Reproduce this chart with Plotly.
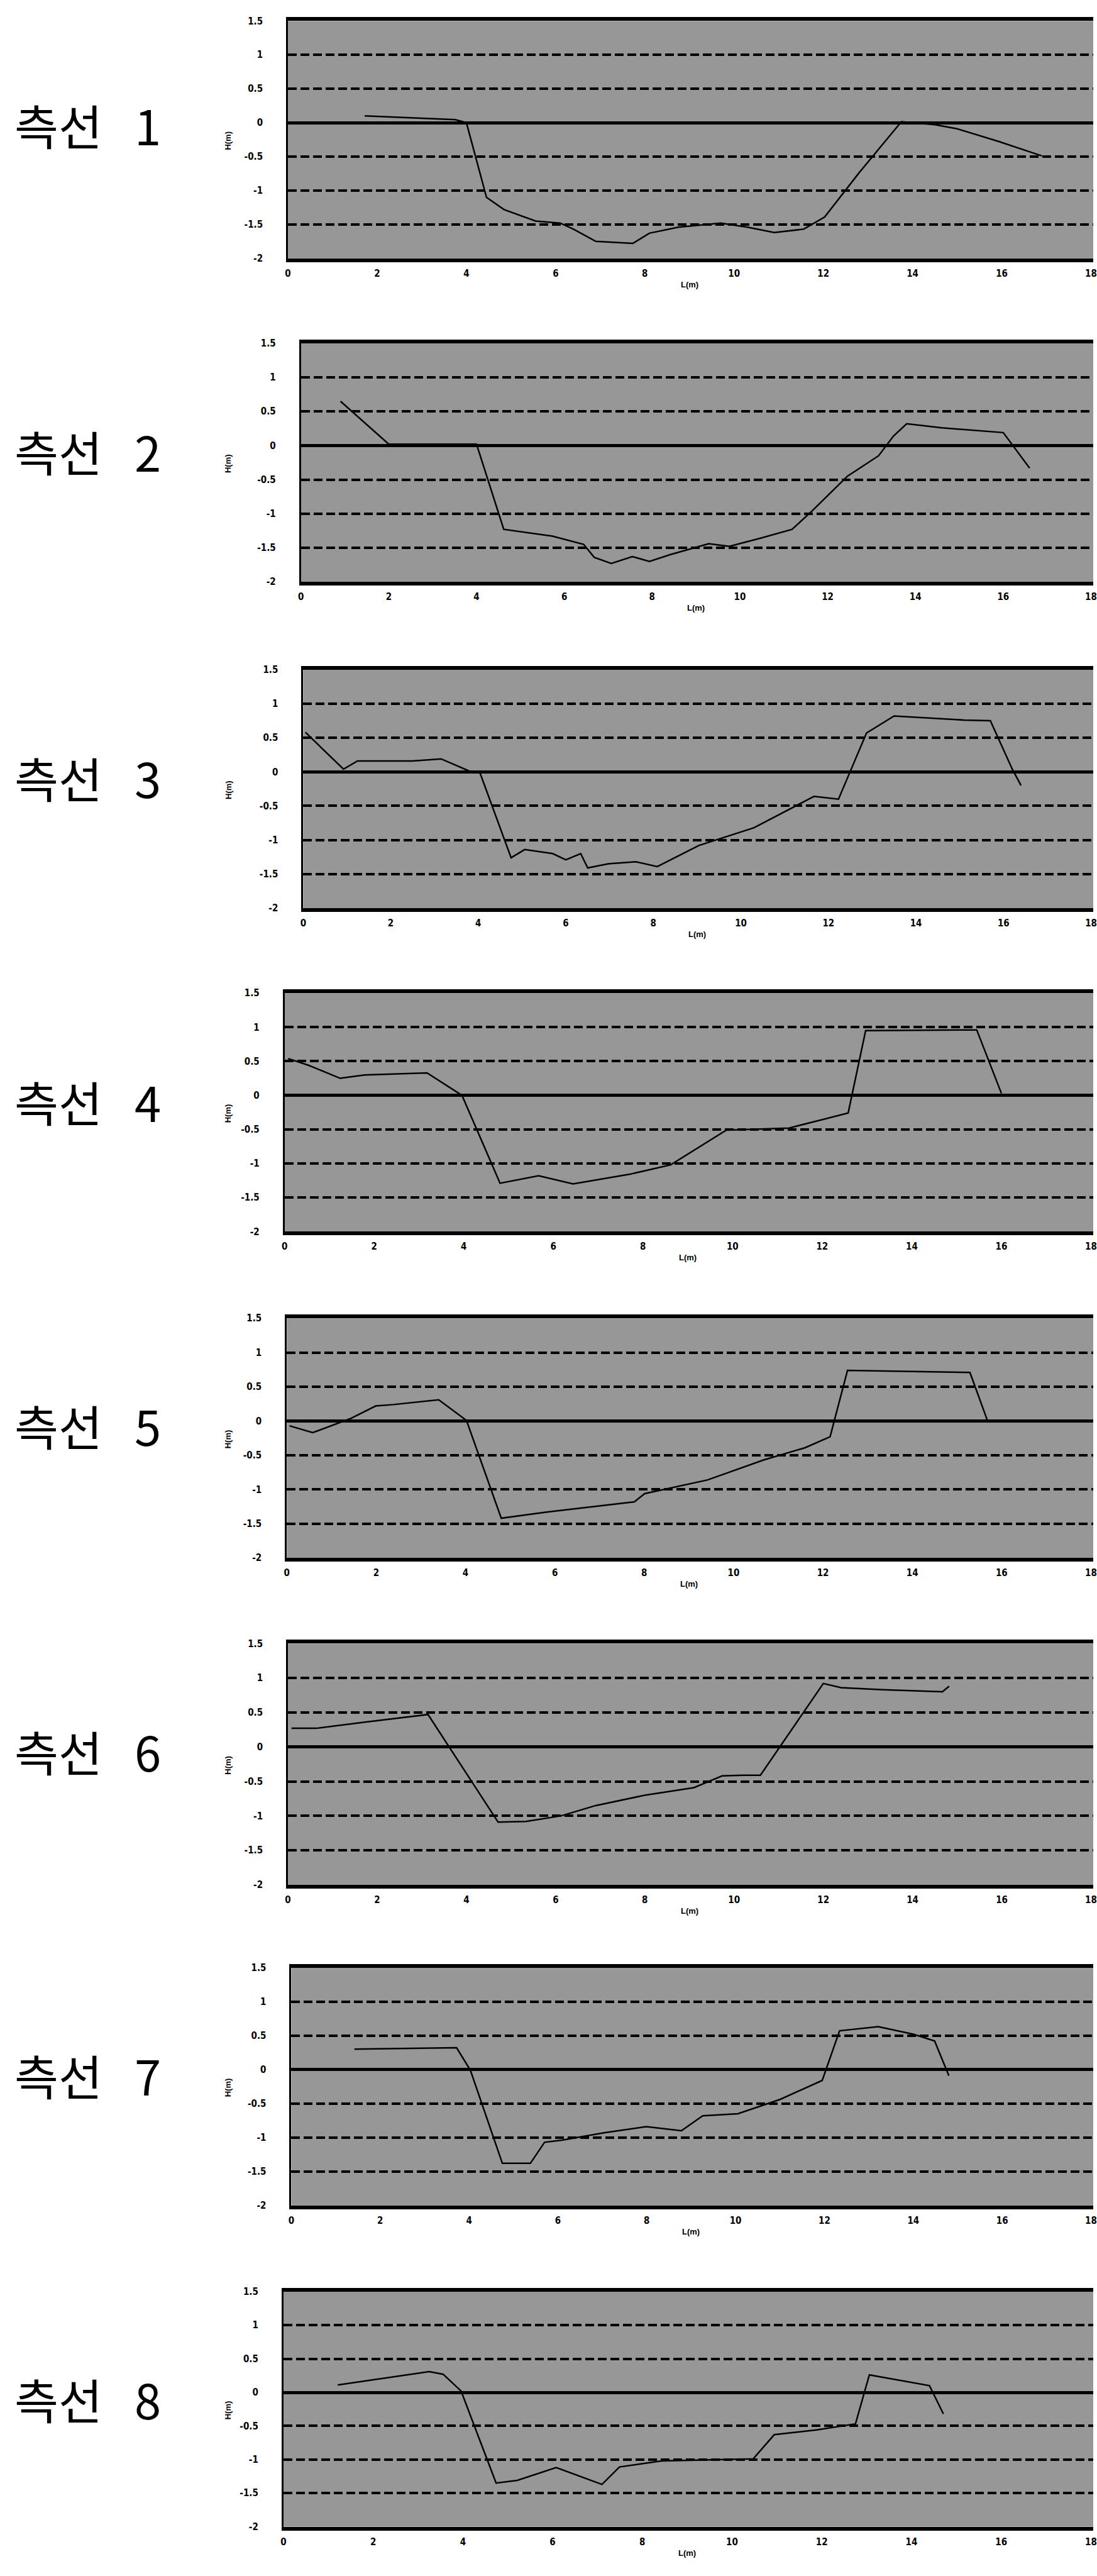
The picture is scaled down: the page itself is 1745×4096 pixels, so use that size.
import plotly.graph_objects as go

# ---------------- data ----------------
labels = ["측선\u00a0\u00a0\u00a01", "측선\u00a0\u00a0\u00a02", "측선\u00a0\u00a0\u00a03", "측선\u00a0\u00a0\u00a04",
          "측선\u00a0\u00a0\u00a05", "측선\u00a0\u00a0\u00a06", "측선\u00a0\u00a0\u00a07", "측선\u00a0\u00a0\u00a08"]

x1 = [1.72, 3.75, 4.0, 4.45, 4.84, 5.55, 6.1, 6.4, 6.9, 7.73, 8.1, 8.75, 9.7, 10.3, 10.9, 11.56, 12.03, 12.8, 13.75, 14.5, 15.0, 15.9, 16.9]
y1 = [0.10, 0.045, 0.0, -1.10, -1.28, -1.45, -1.48, -1.57, -1.75, -1.78, -1.63, -1.54, -1.48, -1.54, -1.62, -1.57, -1.39, -0.74, 0.015, -0.03, -0.09, -0.27, -0.49]

x2 = [0.9, 2.0, 4.0, 4.62, 5.73, 6.44, 6.68, 7.07, 7.55, 7.94, 8.42, 9.29, 9.76, 10.47, 11.19, 11.66, 12.45, 13.16, 13.5, 13.8, 14.6, 16.0, 16.6]
y2 = [0.65, 0.02, 0.02, -1.23, -1.33, -1.45, -1.64, -1.73, -1.63, -1.70, -1.60, -1.44, -1.48, -1.36, -1.23, -0.95, -0.45, -0.15, 0.14, 0.32, 0.26, 0.19, -0.33]

x3 = [0.05, 0.92, 1.24, 2.5, 3.15, 3.8, 4.03, 4.75, 5.06, 5.7, 6.0, 6.34, 6.5, 6.97, 7.6, 8.09, 9.04, 10.3, 11.67, 12.23, 12.87, 13.5, 15.1, 15.7, 16.2, 16.4]
y3 = [0.58, 0.04, 0.16, 0.16, 0.19, 0.01, 0.0, -1.26, -1.14, -1.2, -1.29, -1.2, -1.41, -1.35, -1.32, -1.39, -1.08, -0.82, -0.36, -0.40, 0.57, 0.82, 0.76, 0.75, 0.04, -0.2]

x4 = [0.08, 0.54, 1.24, 1.79, 3.18, 3.96, 4.81, 5.67, 6.44, 7.69, 8.62, 9.86, 11.26, 12.58, 12.97, 15.45, 16.0]
y4 = [0.54, 0.44, 0.25, 0.30, 0.33, 0.0, -1.29, -1.18, -1.30, -1.16, -1.02, -0.51, -0.48, -0.26, 0.95, 0.96, 0.03]

x5 = [0.06, 0.58, 1.44, 1.99, 2.38, 3.4, 4.02, 4.8, 5.82, 7.78, 8.01, 9.42, 10.67, 11.6, 12.16, 12.55, 15.29, 15.68]
y5 = [-0.07, -0.17, 0.04, 0.22, 0.24, 0.31, 0.01, -1.42, -1.33, -1.18, -1.06, -0.86, -0.57, -0.39, -0.23, 0.74, 0.71, 0.01]

x6 = [0.08, 0.63, 1.73, 3.14, 4.71, 5.33, 6.12, 6.9, 8.0, 9.1, 9.73, 10.2, 10.59, 12.0, 12.4, 13.33, 14.67, 14.82]
y6 = [0.27, 0.27, 0.36, 0.47, -1.09, -1.08, -1.0, -0.85, -0.70, -0.59, -0.42, -0.41, -0.41, 0.92, 0.86, 0.83, 0.80, 0.88]

x7 = [1.42, 3.72, 4.03, 4.75, 5.38, 5.7, 6.09, 7.04, 7.99, 8.39, 8.78, 9.26, 10.05, 11.0, 11.95, 12.34, 13.21, 14.0, 14.48, 14.8]
y7 = [0.30, 0.32, -0.01, -1.38, -1.38, -1.07, -1.04, -0.93, -0.84, -0.87, -0.90, -0.68, -0.65, -0.44, -0.16, 0.57, 0.63, 0.52, 0.42, -0.09]

x8 = [1.21, 2.15, 3.25, 3.56, 3.96, 4.74, 5.21, 6.08, 7.1, 7.49, 8.43, 10.47, 10.94, 11.88, 12.75, 13.06, 14.4, 14.71]
y8 = [0.11, 0.2, 0.31, 0.27, 0.02, -1.35, -1.31, -1.12, -1.37, -1.11, -1.02, -0.99, -0.63, -0.56, -0.47, 0.26, 0.10, -0.32]

series_x = [x1, x2, x3, x4, x5, x6, x7, x8]
series_y = [y1, y2, y3, y4, y5, y6, y7, y8]

x_ticks = [0, 2, 4, 6, 8, 10, 12, 14, 16, 18]
y_ticks = [1.5, 1, 0.5, 0, -0.5, -1, -1.5, -2]
y_tick_text = ["1.5", "1", "0.5", "0", "-0.5", "-1", "-1.5", "-2"]
x_title = "L(m)"
y_title = "H(m)"

# ---------------- layout geometry (reference pixels, 1929 x 4527) ----------------
REF_W, REF_H = 1929.0, 4527.0
W, H = 1745, 4096
panel_left = [504, 527, 531, 498, 502, 504, 510, 496]
panel_top = [27, 596, 1172, 1743, 2317, 2891, 3463, 4035]
panel_bot = [446, 1017, 1593, 2164, 2740, 3317, 3883, 4450]
label_cy = [210, 786, 1362, 1934, 2505, 3080, 3652, 4224]


def px(xr):
    return xr / REF_W


def py(yr):
    return 1 - yr / REF_H


tick_font = dict(family="Liberation Sans Narrow, DejaVu Sans Condensed, Liberation Sans, Arial",
                 size=15, color="black", weight="bold")
title_font = dict(family="Liberation Sans Narrow, Liberation Sans, Arial", size=13,
                  color="black", weight="bold")

fig = go.Figure()
annotations = []
for i in range(8):
    n = "" if i == 0 else str(i + 1)
    fig.add_trace(go.Scatter(
        x=series_x[i], y=series_y[i], mode="lines",
        line=dict(color="black", width=2.5),
        xaxis="x" + n, yaxis="y" + n, showlegend=False, hoverinfo="skip"))

    fig.layout["xaxis" + n] = dict(
        domain=[px(panel_left[i]), 1.0], anchor="y" + n,
        range=[0, 18.05], tickvals=x_ticks, ticktext=[str(v) for v in x_ticks],
        showgrid=False, zeroline=False,
        showline=True, linecolor="black", linewidth=6, mirror=True,
        ticks="outside", ticklen=5, tickcolor="rgba(0,0,0,0)",
        ticklabeloverflow="allow",
        tickfont=tick_font, fixedrange=True)
    fig.layout["yaxis" + n] = dict(
        domain=[py(panel_bot[i]), py(panel_top[i])], anchor="x" + n,
        range=[-2, 1.5], tickvals=y_ticks, ticktext=y_tick_text,
        showgrid=True, gridcolor="black", gridwidth=4, griddash="14px,6px",
        zeroline=True, zerolinecolor="black", zerolinewidth=5,
        showline=True, linecolor="black", linewidth=3,
        ticks="outside", ticklen=34, tickcolor="rgba(0,0,0,0)",
        tickfont=tick_font, fixedrange=True)

    # panel label
    annotations.append(dict(
        text=labels[i], xref="paper", yref="paper",
        x=px(18), y=py(label_cy[i]), xanchor="left", yanchor="middle",
        showarrow=False,
        font=dict(family="Noto Sans CJK KR", size=76, color="black")))
    # x axis title
    annotations.append(dict(
        text=x_title, xref="x" + n, yref="paper",
        x=9, y=py(panel_bot[i] + 46), xanchor="center", yanchor="middle",
        showarrow=False, font=title_font))
    # y axis title
    annotations.append(dict(
        text=y_title, xref="paper", yref="paper", textangle=-90,
        x=px(398), y=py((panel_top[i] + panel_bot[i]) / 2 + 2),
        xanchor="center", yanchor="middle", showarrow=False, font=title_font))

fig.update_layout(
    width=W, height=H,
    margin=dict(l=0, r=0, t=0, b=0),
    paper_bgcolor="white",
    plot_bgcolor="#979797",
    annotations=annotations,
    showlegend=False,
)

fig.write_html("out.html", config={"displayModeBar": False},
               post_script="document.body.style.margin='0';")
